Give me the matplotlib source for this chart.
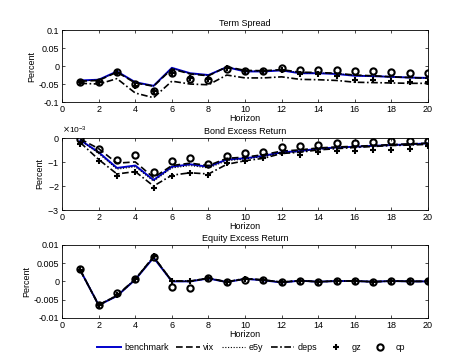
import numpy as np
import matplotlib
matplotlib.use("Agg")
import matplotlib.pyplot as plt
from matplotlib.ticker import ScalarFormatter

horizon = np.arange(1, 21)

# Term spread (percent)
ts_benchmark = [-0.040, -0.038, -0.015, -0.045, -0.055, -0.005, -0.020, -0.025, -0.003, -0.015,
                -0.015, -0.012, -0.020, -0.020, -0.022, -0.027, -0.028, -0.030, -0.032, -0.033]
ts_vix = [-0.042, -0.040, -0.017, -0.047, -0.056, -0.008, -0.022, -0.027, -0.002, -0.012,
          -0.013, -0.010, -0.017, -0.018, -0.020, -0.025, -0.027, -0.030, -0.032, -0.034]
ts_e5y = [-0.041, -0.039, -0.016, -0.046, -0.055, -0.006, -0.021, -0.026, -0.003, -0.014,
          -0.014, -0.011, -0.019, -0.019, -0.021, -0.026, -0.028, -0.030, -0.032, -0.033]
ts_deps = [-0.048, -0.050, -0.035, -0.075, -0.088, -0.042, -0.050, -0.052, -0.025, -0.033,
           -0.033, -0.030, -0.037, -0.038, -0.040, -0.045, -0.046, -0.047, -0.048, -0.048]
ts_gz = [-0.045, -0.045, -0.020, -0.055, -0.068, -0.020, -0.032, -0.035, -0.005, -0.015,
         -0.015, -0.010, -0.022, -0.023, -0.027, -0.038, -0.040, -0.042, -0.043, -0.045]
ts_cp = [-0.045, -0.045, -0.017, -0.050, -0.070, -0.020, -0.035, -0.038, -0.007, -0.013,
         -0.015, -0.005, -0.010, -0.012, -0.012, -0.013, -0.015, -0.017, -0.018, -0.020]

# Bond excess return (x 1e-3 percent)
be_benchmark = [-0.10, -0.60, -1.25, -1.15, -1.75, -1.20, -1.10, -1.20, -0.90, -0.85,
                -0.75, -0.60, -0.55, -0.45, -0.40, -0.37, -0.33, -0.30, -0.27, -0.23]
be_vix = [-0.05, -0.45, -1.05, -1.00, -1.65, -1.15, -1.05, -1.15, -0.85, -0.80,
          -0.70, -0.55, -0.50, -0.42, -0.38, -0.35, -0.32, -0.28, -0.25, -0.22]
be_e5y = [-0.10, -0.65, -1.30, -1.20, -1.80, -1.25, -1.15, -1.25, -0.95, -0.88,
          -0.78, -0.62, -0.57, -0.47, -0.42, -0.38, -0.34, -0.31, -0.28, -0.24]
be_deps = [-0.20, -0.90, -1.50, -1.40, -2.00, -1.55, -1.45, -1.50, -1.10, -0.95,
           -0.85, -0.65, -0.60, -0.50, -0.45, -0.40, -0.36, -0.32, -0.30, -0.27]
be_gz = [-0.25, -0.95, -1.60, -1.40, -2.10, -1.60, -1.45, -1.55, -1.05, -0.95,
         -0.85, -0.65, -0.70, -0.60, -0.55, -0.55, -0.50, -0.50, -0.45, -0.35]
be_cp = [-0.05, -0.45, -0.90, -0.70, -1.40, -0.95, -0.85, -1.10, -0.75, -0.65,
         -0.60, -0.40, -0.35, -0.30, -0.22, -0.22, -0.18, -0.15, -0.15, -0.12]

# Equity excess return (percent)
ee_benchmark = [0.0030, -0.0065, -0.0040, 0.0005, 0.0065, 0.0000, 0.0000, 0.0008, -0.0002, 0.0007,
                0.0003, -0.0003, 0.0002, -0.0001, 0.0001, 0.0001, -0.0001, 0.0001, 0.0000, 0.0000]
ee_vix = [0.0031, -0.0066, -0.0038, 0.0006, 0.0068, 0.0001, 0.0000, 0.0009, -0.0002, 0.0007,
          0.0004, -0.0002, 0.0002, -0.0001, 0.0001, 0.0001, -0.0001, 0.0001, 0.0000, 0.0000]
ee_e5y = [0.0030, -0.0065, -0.0040, 0.0005, 0.0066, 0.0000, 0.0000, 0.0008, -0.0002, 0.0007,
          0.0003, -0.0003, 0.0002, -0.0001, 0.0001, 0.0001, -0.0001, 0.0001, 0.0000, 0.0000]
ee_deps = [0.0029, -0.0064, -0.0039, 0.0006, 0.0067, 0.0001, 0.0001, 0.0009, -0.0001, 0.0008,
           0.0004, -0.0002, 0.0002, -0.0001, 0.0001, 0.0001, -0.0001, 0.0001, 0.0000, 0.0000]
ee_gz = [0.0031, -0.0066, -0.0038, 0.0006, 0.0070, 0.0001, 0.0000, 0.0009, -0.0002, 0.0006,
         0.0004, -0.0002, 0.0002, -0.0001, 0.0001, 0.0001, -0.0001, 0.0001, 0.0000, 0.0000]
ee_cp = [0.0033, -0.0065, -0.0032, 0.0007, 0.0068, -0.0015, -0.0017, 0.0009, -0.0002, 0.0005,
         0.0005, -0.0001, 0.0002, -0.0001, 0.0001, 0.0001, -0.0001, 0.0001, 0.0000, 0.0000]

panels = [
    ("Term Spread", [ts_benchmark, ts_vix, ts_e5y, ts_deps, ts_gz, ts_cp], 1.0,
     (-0.1, 0.1), [-0.1, -0.05, 0, 0.05, 0.1]),
    ("Bond Excess Return", [be_benchmark, be_vix, be_e5y, be_deps, be_gz, be_cp], 1e-3,
     (-3e-3, 0), [-3e-3, -2e-3, -1e-3, 0]),
    ("Equity Excess Return", [ee_benchmark, ee_vix, ee_e5y, ee_deps, ee_gz, ee_cp], 1.0,
     (-0.01, 0.01), [-0.01, -0.005, 0, 0.005, 0.01]),
]

names = ["benchmark", "vix", "e5y", "deps", "gz", "cp"]

plt.rcParams["font.family"] = ["Liberation Sans", "DejaVu Sans"]
plt.rcParams["font.size"] = 6.5

fig = plt.figure(figsize=(4.74, 3.58), dpi=100)
boxes = [(0.131, 0.715, 0.772, 0.201), (0.131, 0.413, 0.772, 0.202), (0.131, 0.112, 0.772, 0.204)]

handles = None
for box, (title, series, scale, ylim, yticks) in zip(boxes, panels):
    ax = fig.add_axes(box)
    s = [np.asarray(v) * scale for v in series]
    h1, = ax.plot(horizon, s[0], color="#0000cc", lw=1.4)
    h2, = ax.plot(horizon, s[1], color="black", lw=1.2, ls=(0, (4, 2)))
    h3, = ax.plot(horizon, s[2], color="black", lw=0.8, ls=(0, (1, 1.5)))
    h4, = ax.plot(horizon, s[3], color="black", lw=1.2, ls=(0, (4, 1.5, 1, 1.5)))
    h5, = ax.plot(horizon, s[4], ls="none", marker="+", color="black", ms=5, mew=1.5)
    h6, = ax.plot(horizon, s[5], ls="none", marker="o", mfc="none", mec="black", ms=4.5, mew=1.5)
    handles = [h1, h2, h3, h4, h5, h6]

    ax.set_xlim(0, 20)
    ax.set_xticks(range(0, 21, 2))
    ax.set_ylim(*ylim)
    ax.set_yticks(yticks)
    ax.set_title(title, fontsize=6.5, pad=3)
    ax.set_xlabel("Horizon", fontsize=6.5, labelpad=0)
    ax.set_ylabel("Percent", fontsize=6.5, labelpad=2)
    ax.tick_params(direction="in", length=2.5, width=0.5, pad=2, labelsize=6.5, top=True, right=True)
    for sp in ax.spines.values():
        sp.set_linewidth(0.6)
    if scale != 1.0:
        fmt = ScalarFormatter(useMathText=True)
        fmt.set_powerlimits((0, 0))
        ax.yaxis.set_major_formatter(fmt)
        off = ax.yaxis.get_offset_text()
        off.set_fontsize(6)
        off.set_x(0.0)
        off.set_horizontalalignment("left")
    else:
        ax.set_yticklabels([("%g" % t) if t != 0 else "0" for t in yticks])

fig.legend(handles, names, loc="center", bbox_to_anchor=(0.53, 0.03), ncol=6, frameon=False,
           fontsize=6.5, handlelength=2.6, handletextpad=0.4, columnspacing=0.8,
           borderpad=0.1)

fig.savefig("out.png", dpi=100)
